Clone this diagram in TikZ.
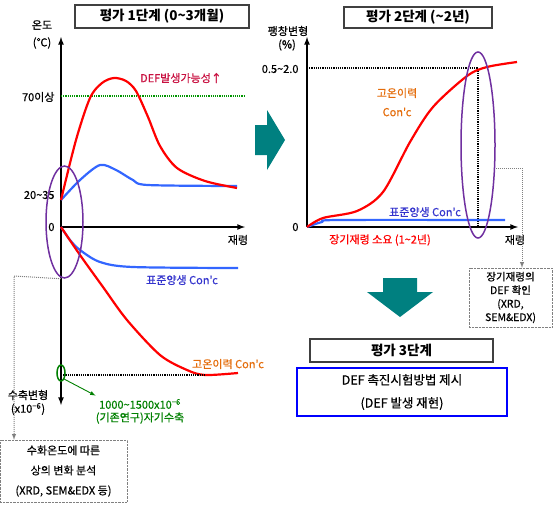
\documentclass[tikz,border=0pt]{standalone}
\usepackage{fontspec}
\setmainfont{Noto Sans CJK KR}
\newfontfamily\lblfont{Noto Sans CJK KR}[FakeBold=0.6]
\usetikzlibrary{shapes.geometric}
\definecolor{crvred}{RGB}{255,0,0}
\definecolor{crvblue}{RGB}{51,102,255}
\definecolor{txtblue}{RGB}{51,51,204}
\definecolor{txtorange}{RGB}{228,108,10}
\definecolor{txtcrimson}{RGB}{200,16,64}
\definecolor{dotgreen}{RGB}{0,150,0}
\definecolor{txtgreen}{RGB}{0,128,0}
\definecolor{ringpurple}{RGB}{112,48,160}
\definecolor{arrteal}{RGB}{0,128,128}
\definecolor{boxgray}{RGB}{64,64,64}
\begin{document}
\begin{tikzpicture}[x=1pt,y=-1pt,
  lbl/.style={font=\lblfont\fontsize{11}{12}\selectfont},
  titlebox/.style={draw=boxgray,line width=1.6pt,font=\fontsize{13.5}{15}\selectfont\bfseries,inner sep=0pt},
  notebox/.style={draw=gray,densely dotted,align=center,inner sep=0pt,font=\lblfont\fontsize{11}{20}\selectfont},
  curve/.style={line width=2.2pt,line join=round},
  axis/.style={line width=1.6pt,-latex},
  ring/.style={draw=ringpurple,line width=1.5pt},
  lead/.style={draw=gray,densely dotted,line width=1pt,-latex}]
\useasboundingbox (0,0) rectangle (553,504);

% ---- stage 1
\node [titlebox,minimum width=174pt,minimum height=23pt] (t1box) at (162,16.5) {평가 1단계 (0\textasciitilde3개월)};
\coordinate (o1) at (61,227);
\draw [axis,latex-latex] (61,405) -- (61,37);
\draw [axis] (o1) -- (245,227);
\node [lbl] (temp) at (42,25) {온도};
\node [lbl] (tempu) at (42,43) {(℃)};
\node [lbl,anchor=east] (t70) at (58,97) {70이상};
\node [lbl,anchor=east] (t20) at (58,195) {20\textasciitilde35};
\node [lbl,anchor=east] (zero1) at (58,227) {0};
\node [lbl] (age1) at (238,240) {재령};
\draw [dotgreen,densely dotted,line width=1.2pt] (61,96) -- (245,96);
\node [lbl,text=txtcrimson] (defup) at (181,78) {DEF발생가능성↑};
\draw [curve,crvblue] plot[smooth] coordinates {(61,200) (80,180) (100,165) (116,170) (133,180) (148,185) (237,186)};
\draw [curve,crvred] plot[smooth] coordinates {(61,200) (76,140) (90,98) (102,83) (114,78) (126,81) (136,91) (148,117) (160,146) (177,168) (205,181) (237,188)};
\draw [curve,crvblue] plot[smooth] coordinates {(61,227) (70,240) (80,250) (100,262) (133,267) (238,268)};
\draw [curve,crvred] plot[smooth] coordinates {(61,227) (80,255) (103,287) (127,320) (160,355) (187,370) (205,375) (238,373)};
\node [lbl,text=txtblue] (std1) at (182,280) {표준양생 Con'c};
\node [lbl,text=txtorange] (hot1) at (228,364) {고온이력 Con'c};
\draw [densely dotted,line width=1.2pt] (61,375) -- (205,375);
\node [lbl] (shr) at (28,395) {수축변형};
\node [lbl] (shru) at (28,409) {(x10\textsuperscript{−6})};
\node [ring,draw=txtgreen,ellipse,minimum width=8pt,minimum height=16pt,inner sep=0pt] (gring) at (61,373) {};
\node [lbl,text=txtgreen] (auto1) at (140,404) {1000\textasciitilde1500x10\textsuperscript{−6}};
\node [lbl,text=txtgreen] (auto2) at (140,418) {(기존연구)자기수축};
\draw [txtgreen,line width=0.9pt,-latex] (gring.south east) -- (auto1.north west);
\node [ring,ellipse,minimum width=37pt,minimum height=112pt,inner sep=0pt] (ring1) at (64.5,222) {};
\node [notebox,minimum width=127pt,minimum height=62pt] (note1) at (63.5,471) {수화온도에 따른\\상의 변화 분석\\(XRD, SEM\&EDX 등)};
\coordinate (c1) at (14,276);
\draw [lead] (ring1.south) ++(-3.5,0) -- (c1) -- (note1.north -| c1);

% ---- arrow to stage 2
\fill [arrteal] (255,125) -- (267,125) -- (267,110) -- (285,140) -- (267,170) -- (267,155) -- (255,155) -- cycle;

% ---- stage 2
\node [titlebox,minimum width=148pt,minimum height=21pt] (t2box) at (418,17.5) {평가 2단계 (\textasciitilde2년)};
\coordinate (o2) at (307,227);
\draw [axis] (o2) -- (307,37);
\draw [axis] (o2) -- (518,227);
\node [lbl] (exp) at (288,31) {팽창변형};
\node [lbl] (expu) at (287,45) {(\%)};
\node [lbl,anchor=east] (e05) at (302,69) {0.5\textasciitilde2.0};
\node [lbl,anchor=east] (zero2) at (302,227) {0};
\node [lbl] (age2) at (515,240) {재령};
\draw [densely dotted,line width=1.2pt] (307,68) -- (478,68) -- (478,227);
\draw [curve,crvblue] plot[smooth] coordinates {(307,227) (322,222) (338,220) (505,220)};
\draw [curve,crvred] plot[smooth] coordinates {(307,227) (323,218) (357,211) (383,192) (410,142) (433,107) (467,76) (487,67) (517,62)};
\node [lbl,text=txtorange] (hot2a) at (397,93) {고온이력};
\node [lbl,text=txtorange] (hot2b) at (397,112) {Con'c};
\node [lbl,text=txtblue] (std2) at (425,212) {표준양생 Con'c};
\node [lbl,text=crvred] (long) at (380,240) {장기재령 소요 (1\textasciitilde2년)};
\node [ring,ellipse,minimum width=34pt,minimum height=186pt,inner sep=0pt] (ring2) at (478,145) {};
\node [notebox,minimum width=83pt,minimum height=59pt,font=\lblfont\fontsize{10.5}{13.5}\selectfont] (note2) at (510.5,297.5) {장기재령의\\DEF 확인\\(XRD,\\SEM\&EDX)};
\coordinate (c2) at (522,168);
\draw [lead] (ring2.east |- c2) -- (c2) -- (note2.north -| c2);

% ---- arrow to stage 3
\fill [arrteal] (383,278) -- (417,278) -- (417,292) -- (433,292) -- (400,317) -- (367,292) -- (383,292) -- cycle;

% ---- stage 3
\node [titlebox,minimum width=183pt,minimum height=23pt] (t3box) at (401.5,350.5) {평가 3단계};
\node [draw=blue,line width=1.6pt,align=center,inner sep=0pt,minimum width=210pt,minimum height=48pt,font=\lblfont\fontsize{12.5}{23}\selectfont] (defbox) at (402,392) {DEF 촉진시험방법 제시\\(DEF 발생 재현)};
\end{tikzpicture}
\end{document}
